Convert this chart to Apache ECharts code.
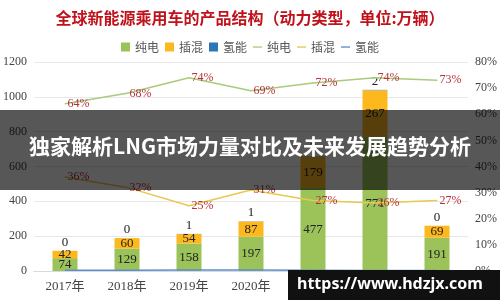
<!DOCTYPE html>
<html><head><meta charset="utf-8">
<script src="https://cdn.jsdelivr.net/npm/echarts@6/dist/echarts.min.js"></script>
<style>html,body{margin:0;padding:0;background:#fff}#c{width:500px;height:300px}</style>
</head><body><div id="c"></div>
<script>
var categories = ['2017年','2018年','2019年','2020年','2021年','2022年','2023年'];
var bevValues = [74, 129, 158, 197, 477, 771, 191];
var phevValues = [42, 60, 54, 87, 179, 267, 69];
var fcevValues = [0, 0, 1, 1, 2, 2, 0];
var bevShare = [64, 68, 74, 69, 72, 74, 73];
var phevShare = [36, 32, 25, 31, 27, 26, 27];
var fcevShare = [0.3, 0.3, 0.4, 0.4, 0.3, 0.2, 0.2];
var leftTicks = [0, 200, 400, 600, 800, 1000, 1200];
var rightTicks = [0, 10, 20, 30, 40, 50, 60, 70, 80];
var titleText = '全球新能源乘用车的产品结构（动力类型，单位:万辆）';
var bannerText = '独家解析LNG市场力量对比及未来发展趋势分析';
var watermarkText = 'https://www.hdzjx.com';

var serif = '"Liberation Serif","DejaVu Serif","Noto Sans CJK SC",serif';
var lineIcon = 'path://M0,0M10,9M0,3.8L10,3.8L10,5.3L0,5.3Z';
var chart = echarts.init(document.getElementById('c'));
var pctLabel = {show: true, position: 'right', distance: 2, color: '#b5303a', fontFamily: serif, fontSize: 12,
  formatter: function(p){ return p.value + '%'; }};
var barLabel = {show: true, position: 'inside', color: '#222', fontFamily: serif, fontSize: 13};
chart.setOption({
  animation: false,
  title: {text: titleText, left: 'center', top: 5,
    textStyle: {color: '#c0121b', fontSize: 16, fontWeight: 'bold', fontFamily: '"Noto Sans CJK SC",sans-serif'}},
  legend: {top: 36, left: 'center', itemGap: 6, itemWidth: 9, itemHeight: 9,
    textStyle: {color: '#555', fontSize: 12, fontFamily: '"Noto Sans CJK SC",sans-serif'},
    formatter: function(n){ return n.replace(/\u200b/g, ''); },
    data: [{name:'纯电', icon:'rect'}, {name:'插混', icon:'rect'}, {name:'氢能', icon:'rect'},
      {name:'纯电\u200b', icon: lineIcon}, {name:'插混\u200b', icon: lineIcon}, {name:'氢能\u200b', icon: lineIcon}]},
  grid: {left: 33, right: 32, top: 62, bottom: 29},
  xAxis: {type: 'category', data: categories,
    axisLine: {lineStyle: {color: '#d9d9d9'}}, axisTick: {show: false},
    axisLabel: {color: '#444', fontSize: 13, fontFamily: serif, margin: 9}},
  yAxis: [
    {type: 'value', min: leftTicks[0], max: leftTicks[leftTicks.length-1], interval: 200,
      axisLabel: {color: '#444', fontSize: 12, fontFamily: serif, margin: 7, formatter: function(v){ return String(v); }},
      splitLine: {lineStyle: {color: '#e8e8e8'}}, axisLine: {show: false}, axisTick: {show: false}},
    {type: 'value', min: rightTicks[0], max: rightTicks[rightTicks.length-1], interval: 10,
      axisLabel: {color: '#444', fontSize: 12, fontFamily: serif, margin: 7, formatter: '{value}%'},
      splitLine: {show: false}, axisLine: {show: false}, axisTick: {show: false}}
  ],
  series: [
    {name: '纯电', type: 'bar', stack: 'a', data: bevValues, barWidth: 25,
      itemStyle: {color: '#9cc35a'}, label: barLabel},
    {name: '插混', type: 'bar', stack: 'a', data: phevValues,
      itemStyle: {color: '#fdb81e'}, label: barLabel},
    {name: '氢能', type: 'bar', stack: 'a', data: fcevValues,
      itemStyle: {color: '#2e75b6'},
      label: {show: true, position: 'top', distance: 2, color: '#222', fontFamily: serif, fontSize: 13}},
    {name: '纯电\u200b', type: 'line', yAxisIndex: 1, data: bevShare, symbol: 'circle', symbolSize: 1, showSymbol: true,
      lineStyle: {color: '#a8cc7a', width: 1.5}, itemStyle: {color: '#a8cc7a'}, label: pctLabel, z: 5},
    {name: '插混\u200b', type: 'line', yAxisIndex: 1, data: phevShare, symbol: 'circle', symbolSize: 1, showSymbol: true,
      lineStyle: {color: '#e8c84e', width: 1.5}, itemStyle: {color: '#e8c84e'}, label: pctLabel, z: 5},
    {name: '氢能\u200b', type: 'line', yAxisIndex: 1, data: fcevShare, symbol: 'none',
      lineStyle: {color: '#5b8fc9', width: 1.5}, itemStyle: {color: '#5b8fc9'}, z: 5}
  ],
  graphic: [
    {type: 'rect', left: 0, top: 110, z: 100, shape: {width: 500, height: 80},
      style: {fill: 'rgba(0,0,0,0.66)'}},
    {type: 'text', left: 'center', top: 136, z: 101,
      style: {text: bannerText, fill: '#fff', font: 'bold 21px "Noto Sans CJK SC",sans-serif'}},
    {type: 'rect', left: 288, top: 270, z: 100, shape: {width: 212, height: 30},
      style: {fill: '#111'}},
    {type: 'text', left: 297, top: 276, z: 101,
      style: {text: watermarkText, fill: '#fff', font: 'bold 16px "Noto Sans",sans-serif'}}
  ]
});
</script></body></html>
